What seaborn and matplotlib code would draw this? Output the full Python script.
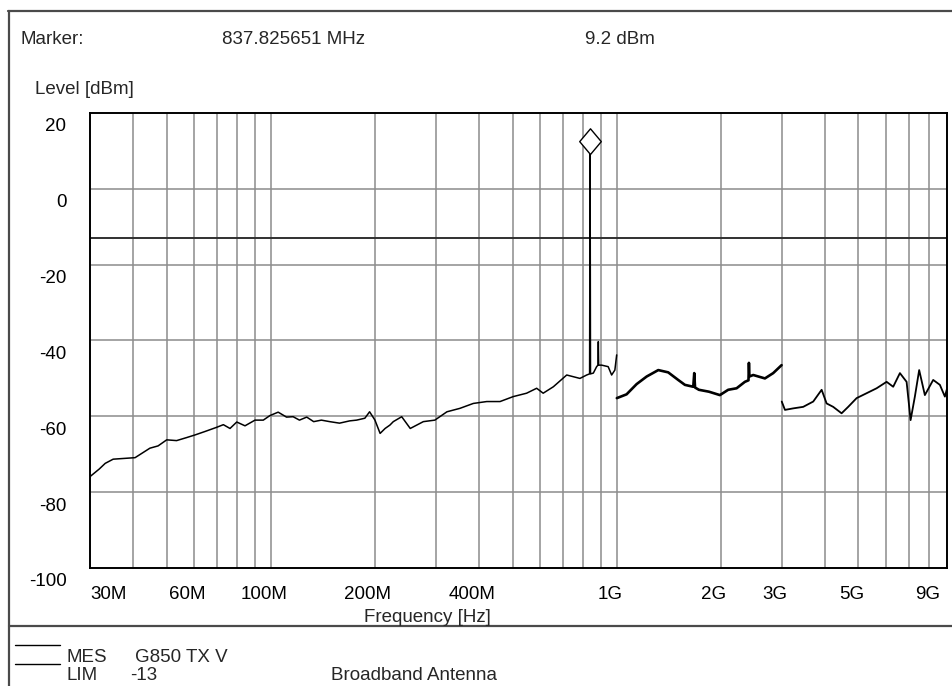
import numpy as np
import pandas as pd
import matplotlib
matplotlib.use("Agg")
import matplotlib.pyplot as plt
import seaborn as sns
from matplotlib.lines import Line2D
from matplotlib.path import Path
from matplotlib.transforms import ScaledTranslation

# Trace data (frequency in MHz, level in dBm)
# band 1: 30 MHz - 1 GHz (includes the carrier at the marker)
freq_lo = [30, 31.9, 33.2, 35.0, 40.5, 44.7, 47.2, 50.0, 53.4, 57.1, 60.4, 64.5, 69.7, 72.9,
           76.2, 79.7, 84.2, 90.0, 95.1, 99.4, 105, 111, 116, 121, 127, 133, 140, 148, 158,
           169, 177, 187, 193, 200, 207, 214, 221, 226, 239, 253, 276, 298, 323, 352, 385,
           421, 460, 502, 549, 587, 613, 656, 717, 783, 819, 835, 837.8, 840, 856, 875, 883,
           885, 887, 905, 945, 967, 988, 1000]
level_lo = [-75.9, -73.9, -72.4, -71.3, -70.9, -68.4, -67.8, -66.2, -66.4, -65.6, -64.9, -64.0,
            -62.9, -62.2, -63.2, -61.5, -62.5, -61.0, -61.0, -59.8, -58.9, -60.2, -60.1, -61.0,
            -60.2, -61.4, -61.0, -61.4, -61.8, -61.2, -61.0, -60.5, -58.8, -61.0, -64.5, -63.2,
            -62.3, -61.4, -60.1, -63.2, -61.4, -61.0, -58.8, -57.9, -56.6, -56.1, -56.1, -54.8,
            -53.9, -52.6, -53.9, -52.2, -49.1, -50.0, -49.1, -48.8, 9.2, -48.8, -48.6, -46.9,
            -46.5, -40.3, -46.5, -46.5, -46.9, -49.1, -47.8, -43.8]

# band 2: 1 GHz - 3 GHz
freq_mid = [1001, 1068, 1142, 1221, 1319, 1409, 1506, 1575, 1665, 1676, 1685, 1729, 1848, 1988,
            2101, 2222, 2348, 2405, 2412, 2420, 2482, 2683, 2835, 2998]
level_mid = [-55.2, -54.2, -51.5, -49.5, -47.8, -48.4, -50.4, -51.7, -52.2, -48.6, -52.4, -53.0,
             -53.5, -54.4, -53.0, -52.6, -50.9, -50.5, -45.9, -49.5, -49.1, -50.0, -48.6, -46.5]

# band 3: 3 GHz - 9 GHz
freq_hi = [3001, 3066, 3240, 3462, 3701, 3914, 4046, 4227, 4470, 4671, 4940, 5281, 5644, 6032,
           6303, 6591, 6891, 7077, 7281, 7493, 7782, 8226, 8601, 8892, 9000]
level_hi = [-56.1, -58.3, -57.9, -57.5, -56.1, -53.0, -56.6, -57.5, -59.2, -57.5, -55.2, -53.9,
            -52.6, -50.9, -52.2, -48.6, -50.9, -61.0, -54.8, -47.8, -54.4, -50.4, -51.7, -54.8,
            -53.0]

marker_freq = 837.825651
marker_level = 9.2
limit_level = -13

x_ticks = [30, 60, 100, 200, 400, 1000, 2000, 3000, 5000, 9000]
x_labels = ["30M", "60M", "100M", "200M", "400M", "1G", "2G", "3G", "5G", "9G"]
y_ticks = [20, 0, -20, -40, -60, -80, -100]

df = pd.concat([
    pd.DataFrame({"freq": freq_lo, "level": level_lo, "band": "lo"}),
    pd.DataFrame({"freq": freq_mid, "level": level_mid, "band": "mid"}),
    pd.DataFrame({"freq": freq_hi, "level": level_hi, "band": "hi"}),
])

sns.set_style("white")
plt.rcParams["font.family"] = ["Liberation Sans", "DejaVu Sans"]
fs = 13.5

W, H = 952, 686
fig = plt.figure(figsize=(W / 100, H / 100), dpi=100)
ax = fig.add_axes([90 / W, 1 - 568 / H, (946.7 - 90) / W, (568 - 113) / H])
ax.set_xscale("log")

# grid: every 1..9 step of each decade, plus the level lines
minor = [m * d for d in (10, 100, 1000) for m in range(1, 10) if 30 <= m * d <= 9000]
for f in minor:
    ax.axvline(f, color="#8c8c8c", lw=1.1, zorder=1)
for y in y_ticks[1:-1]:
    ax.axhline(y, color="#8c8c8c", lw=1.1, zorder=1)
ax.axhline(limit_level, color="#303030", lw=1.4, zorder=2)

# the dense sweep noise makes the upper bands look heavier
sns.lineplot(data=df, x="freq", y="level", units="band", estimator=None, sort=False,
             size="band", sizes={"lo": 1.1, "mid": 1.9, "hi": 1.3},
             color="black", ax=ax, legend=False, zorder=3)

# marker diamond sits on top of the peak
diamond = Path([(0, 0), (0.42, 0.5), (0, 1), (-0.42, 0.5), (0, 0)],
               [Path.MOVETO, Path.LINETO, Path.LINETO, Path.LINETO, Path.CLOSEPOLY])
ax.plot([marker_freq], [marker_level], marker=diamond, ms=37, mfc="white", mec="black",
        mew=1.0, ls="none", zorder=4)

ax.set_xlim(30, 9000)
ax.set_ylim(-100, 20)
ax.set_xlabel("")
ax.set_ylabel("")
ax.set_xticks(x_ticks)
ax.set_xticklabels(x_labels)
ax.xaxis.set_minor_locator(matplotlib.ticker.NullLocator())
ax.set_yticks(y_ticks)
ax.set_yticklabels([str(v) for v in y_ticks])
ax.tick_params(axis="both", length=0, labelsize=fs, colors="black")
ax.tick_params(axis="x", pad=13)
ax.tick_params(axis="y", pad=17)

for sp in ax.spines.values():
    sp.set_color("black")
    sp.set_linewidth(1.4)

# shift labels the way the instrument printout places them
dy = ScaledTranslation(0, -12 / 100, fig.dpi_scale_trans)
for lab in ax.get_yticklabels():
    lab.set_transform(lab.get_transform() + dy)
dx = ScaledTranslation(-7 / 100, 0, fig.dpi_scale_trans)
xlabs = ax.get_xticklabels()
for lab in xlabs:
    lab.set_transform(lab.get_transform() + dx)
xlabs[0].set_ha("left")
xlabs[0].set_transform(xlabs[0].get_transform() + ScaledTranslation(7 / 100, 0, fig.dpi_scale_trans))
xlabs[-1].set_ha("right")

# page frame of the printout
frame = dict(transform=fig.transFigure, color="#4a4a4a", lw=1.6)
fig.add_artist(Line2D([8 / W, 1], [1 - 11 / H] * 2, **frame))
fig.add_artist(Line2D([9 / W] * 2, [1 - 11 / H, 0], **frame))
fig.add_artist(Line2D([9 / W, 1], [1 - 626 / H] * 2, **frame))

def ftext(x, y, s, **kw):
    fig.text(x / W, 1 - y / H, s, fontsize=fs, va="center", **kw)

ftext(20, 40, "Marker:")
ftext(222, 40, "837.825651 MHz")
ftext(585, 40, "9.2 dBm")
ftext(35, 90, "Level [dBm]")
ftext(427, 617, "Frequency [Hz]", ha="center")

# legend block
leg = dict(transform=fig.transFigure, color="black", lw=1.0)
fig.add_artist(Line2D([15 / W, 60 / W], [1 - 645 / H] * 2, **leg))
fig.add_artist(Line2D([15 / W, 60 / W], [1 - 664 / H] * 2, **leg))
ftext(67, 657, "MES")
ftext(135, 657, "G850 TX V")
ftext(67, 675, "LIM")
ftext(130, 675, "-13")
ftext(331, 675, "Broadband Antenna")

fig.savefig("out.png", dpi=100)
